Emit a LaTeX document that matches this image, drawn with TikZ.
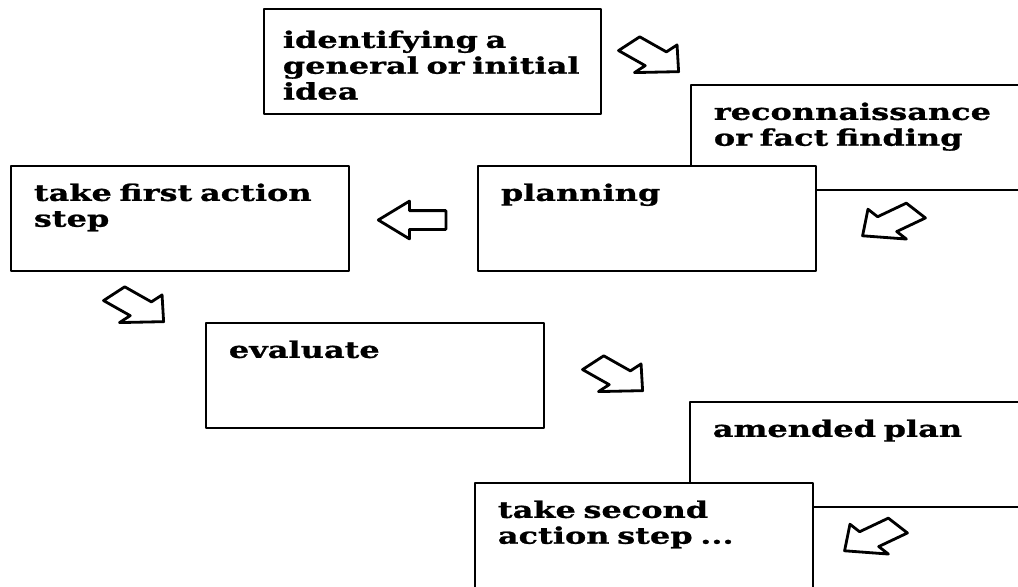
\documentclass[tikz,border=0pt]{standalone}
\usepackage{fontspec}
\newfontfamily\stepfont[FakeStretch=1.4,FakeBold=1]{DejaVu Serif}
\usepackage{tikz}
\usetikzlibrary{shapes.arrows}

\tikzset{
    stage/.style={draw, fill=white, line width=1pt, anchor=north west, align=left,
        inner xsep=0.46cm, inner ysep=0pt, text width=5.84cm,
        text height=0.7cm, text depth=1.4cm,
        font=\stepfont\bfseries\fontsize{13}{14.7}\selectfont},
    offpage/.style={text width=7.08cm},
    hollow/.style={single arrow, draw, fill=white, line width=1.6pt, inner sep=0pt,
        text height=0.16cm, text depth=0.16cm, minimum height=0.82cm,
        single arrow head extend=0.19cm, single arrow tip angle=90,
        anchor=tip, xscale=1.65, rotate=#1}
}

\begin{document}
\begin{tikzpicture}[line cap=round,line join=round,x=0.02cm,y=-0.02cm]
        \useasboundingbox (0,0) rectangle (1018,586);
        \clip (0,0) rectangle (1018,586);
        \node[stage, inner xsep=0.38cm, text width=5.98cm, text height=0.78cm, text depth=1.32cm] (idea) at (263,8) {identifying a\\general or initial\\idea};
        \node[stage, offpage] (recon) at (690,84) {reconnaissance\\or fact finding};
        \node[stage] (plan) at (477,165) {planning};
        \node[stage] (first) at (10,165) {take first action\\step};
        \node[stage] (eval) at (205,322) {evaluate};
        \node[stage, offpage] (amend) at (689,401) {amended plan};
        \node[stage] (second) at (474,482) {take second\\action step ...};
        \node[hollow=-43] (a1) at (681,73) {};
        \node[hollow=218] (a2) at (860,237) {};
        \node[hollow=180] (a3) at (375,220) {};
        \node[hollow=-43] (a4) at (166,323) {};
        \node[hollow=-43] (a5) at (645,392) {};
        \node[hollow=218] (a6) at (842,552) {};
    \end{tikzpicture}
\end{document}
